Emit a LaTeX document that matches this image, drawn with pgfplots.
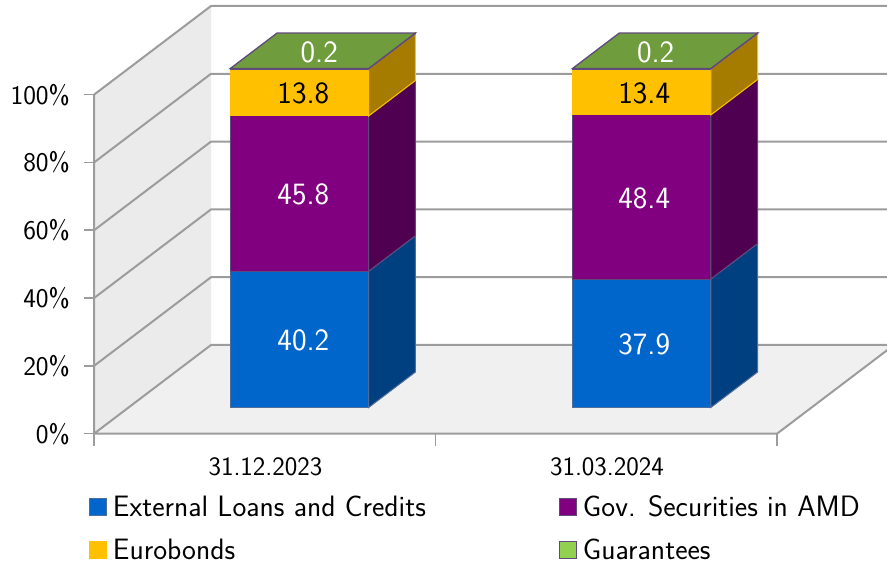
\documentclass[border=0pt]{standalone}
\usepackage{pgfplots}
\pgfplotsset{compat=1.18}
\renewcommand{\familydefault}{\sfdefault}
\definecolor{gridc}{HTML}{9C9C9C}
\definecolor{wallc}{HTML}{EBEBEB}
\definecolor{floorc}{HTML}{F0F0F0}
\definecolor{blueF}{HTML}{0066CC}
\definecolor{blueS}{HTML}{004080}
\definecolor{purpF}{HTML}{800080}
\definecolor{purpS}{HTML}{500050}
\definecolor{yelF}{HTML}{FFC000}
\definecolor{yelS}{HTML}{A67C00}
\definecolor{grnF}{HTML}{6F9C3C}
\definecolor{grnL}{HTML}{92D050}
\definecolor{edgeP}{HTML}{604A7B}
\definecolor{edgeB}{HTML}{4F6D9B}
% x0 x1 z0 z1 front side edge
\newcommand{\seg}[7]{%
  \addplot3[fill=#5,draw=#7,line width=1pt,forget plot] coordinates {(#1,0.295,#3)(#2,0.295,#3)(#2,0.295,#4)(#1,0.295,#4)} --cycle;
  \addplot3[fill=#6,draw=#7,line width=1pt,forget plot] coordinates {(#2,0.295,#3)(#2,0.695,#3)(#2,0.695,#4)(#2,0.295,#4)} --cycle;
}
\newcommand{\topf}[3]{%
  \addplot3[fill=grnF,draw=edgeP,line width=1.3pt,forget plot] coordinates {(#1,0.295,#3)(#2,0.295,#3)(#2,0.695,#3)(#1,0.695,#3)} --cycle;
}
\begin{document}
\begin{tikzpicture}
\useasboundingbox (0,0) rectangle (887pt,565pt);
\clip (0,0) rectangle (887pt,565pt);
\begin{axis}[
  anchor=origin, at={(94pt,131.3pt)},
  x={(341.5pt,0pt)}, y={(117pt,88.7pt)}, z={(0pt,3.39pt)},
  xmin=0,xmax=2,ymin=0,ymax=1,zmin=0,zmax=100,
  clip=false, no marks,
  axis x line*=bottom, axis y line*=left, axis z line*=left,
  axis line style={draw=none},
  /pgf/number format/assume math mode=true,
  xtick={0.5,1.5}, xticklabels={31.12.2023,31.03.2024},
  ytick=\empty,
  ztick={0,20,40,60,80,100},
  zticklabel={\pgfmathprintnumber{\tick}\%},
  major tick length=0pt,
  ticklabel style={text=black},
  xticklabel style={font=\fontsize{26.6}{28}\selectfont,yshift=-20pt,xshift=7pt},
  zticklabel style={font=\fontsize{27}{29}\selectfont,anchor=east,inner sep=0pt,xshift=-24pt,yshift=0pt},
  legend columns=2,
  legend cell align=left,
  legend style={draw=none,fill=none,inner sep=0pt,outer sep=0pt,
    font=\fontsize{29.5}{31}\selectfont,
    at={(axis cs:0,0,0)},anchor=north west,xshift=-5pt,yshift=-60pt,
    row sep=17pt,
    /tikz/column 1/.style={column sep=4pt},
    /tikz/column 2/.style={column sep=131pt},
    /tikz/column 3/.style={column sep=4pt}},
  legend image code/.code={\draw[#1,line width=1pt] (0pt,-8.5pt) rectangle (17pt,8.5pt);},
]
\addlegendimage{fill=blueF,draw=edgeB}
\addlegendimage{fill=purpF,draw=edgeP}
\addlegendimage{fill=yelF,draw=yelF}
\addlegendimage{fill=grnL,draw=edgeP}
\addlegendentry{External Loans and Credits}
\addlegendentry{Gov. Securities in AMD}
\addlegendentry{Eurobonds}
\addlegendentry{Guarantees}
% walls and floor
\addplot3[fill=wallc,draw=none,forget plot] coordinates {(0,0,0)(0,1,0)(0,1,100)(0,0,100)} --cycle;
\addplot3[fill=floorc,draw=none,forget plot] coordinates {(0,0,0)(2,0,0)(2,1,0)(0,1,0)} --cycle;
% gridlines and frame
\addplot3[draw=gridc,line width=2pt,forget plot] coordinates {(0,0,100)(0,0,0)(2,0,0)(2,1,0)(0,1,0)(0,0,0)};
\addplot3[draw=gridc,line width=2pt,forget plot] coordinates {(0,0,20)(0,1,20)(2,1,20)};
\addplot3[draw=gridc,line width=2pt,forget plot] coordinates {(0,0,40)(0,1,40)(2,1,40)};
\addplot3[draw=gridc,line width=2pt,forget plot] coordinates {(0,0,60)(0,1,60)(2,1,60)};
\addplot3[draw=gridc,line width=2pt,forget plot] coordinates {(0,0,80)(0,1,80)(2,1,80)};
\addplot3[draw=gridc,line width=2pt,forget plot] coordinates {(0,0,100)(0,1,100)(2,1,100)};
% tick marks
\addplot3[draw=gridc,line width=1.6pt,forget plot] coordinates {(0,0,0)(0,0,-3.5)};
\addplot3[draw=gridc,line width=1.6pt,forget plot] coordinates {(1,0,0)(1,0,-3.5)};
\addplot3[draw=gridc,line width=1.6pt,forget plot] coordinates {(2,0,0)(2,0,-3.5)};
\addplot3[draw=gridc,line width=1.6pt,forget plot] coordinates {(-0.03,0,0)(0,0,0)};
\addplot3[draw=gridc,line width=1.6pt,forget plot] coordinates {(-0.03,0,20)(0,0,20)};
\addplot3[draw=gridc,line width=1.6pt,forget plot] coordinates {(-0.03,0,40)(0,0,40)};
\addplot3[draw=gridc,line width=1.6pt,forget plot] coordinates {(-0.03,0,60)(0,0,60)};
\addplot3[draw=gridc,line width=1.6pt,forget plot] coordinates {(-0.03,0,80)(0,0,80)};
\addplot3[draw=gridc,line width=1.6pt,forget plot] coordinates {(-0.03,0,100)(0,0,100)};
% bar 1
\seg{0.298}{0.703}{0}{40.2}{blueF}{blueS}{edgeB}
\seg{0.298}{0.703}{40.2}{86}{purpF}{purpS}{edgeP}
\seg{0.298}{0.703}{86}{99.8}{yelF}{yelS}{yelF}
\seg{0.298}{0.703}{99.8}{100}{grnF}{grnF}{edgeP}
\topf{0.298}{0.703}{100}
% bar 2
\seg{1.300}{1.705}{0}{37.9}{blueF}{blueS}{edgeB}
\seg{1.300}{1.705}{37.9}{86.3}{purpF}{purpS}{edgeP}
\seg{1.300}{1.705}{86.3}{99.8}{yelF}{yelS}{yelF}
\seg{1.300}{1.705}{99.8}{100}{grnF}{grnF}{edgeP}
\topf{1.300}{1.705}{100}
% data labels
\tikzset{dl/.style={font=\fontsize{31}{33}\selectfont,yshift=-1.2pt}}
\node[dl,white] at (axis cs:0.512,0.295,20.1) {40.2};
\node[dl,white] at (axis cs:0.512,0.295,63.1) {45.8};
\node[dl] at (axis cs:0.512,0.295,92.9) {13.8};
\node[dl,white] at (axis cs:0.49,0.495,100) {0.2};
\node[dl,white] at (axis cs:1.51,0.295,18.95) {37.9};
\node[dl,white] at (axis cs:1.51,0.295,62.1) {48.4};
\node[dl] at (axis cs:1.51,0.295,93.05) {13.4};
\node[dl,white] at (axis cs:1.475,0.495,100) {0.2};
\end{axis}
\end{tikzpicture}
\end{document}
